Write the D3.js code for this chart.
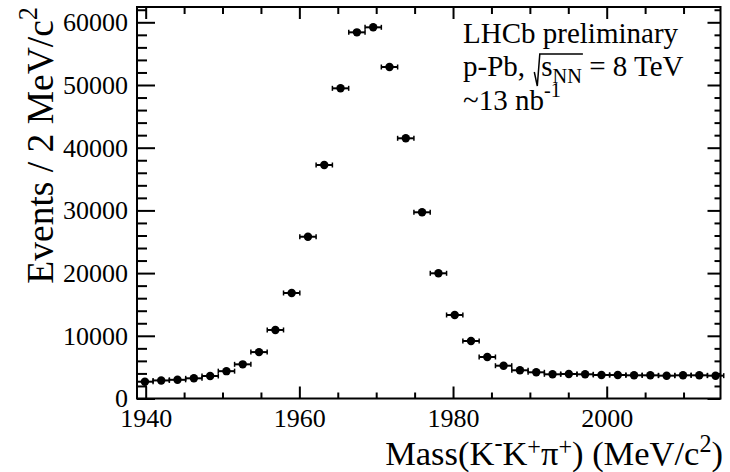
<!DOCTYPE html>
<html>
<head>
<meta charset="utf-8">
<script src="https://cdn.jsdelivr.net/npm/d3@7"></script>
<style>
    body { margin: 0; background: #fff; }
    svg { display: block; }
    svg text { font-family: 'Liberation Serif', 'Times New Roman', serif; }
</style>
</head>
<body>
<div class="chart"></div>
<script>
// bin centres (MeV/c^2) and counts
let mass = [1939.90, 1942.02, 1944.14, 1946.27, 1948.39, 1950.51, 1952.63, 1954.75, 1956.88, 1959.00,
    1961.12, 1963.24, 1965.36, 1967.49, 1969.61, 1971.73, 1973.85, 1975.97, 1978.10, 1980.22,
    1982.34, 1984.46, 1986.58, 1988.71, 1990.83, 1992.95, 1995.07, 1997.19, 1999.32, 2001.44,
    2003.56, 2005.68, 2007.80, 2009.93, 2012.05, 2014.17];
let events = [2680, 2880, 2980, 3220, 3590, 4360, 5450, 7400, 10930, 16830,
    25800, 37240, 49470, 58400, 59200, 52870, 41500, 29700, 19970, 13320,
    9170, 6620, 5230, 4500, 4180, 3860, 3910, 3860, 3750, 3750,
    3700, 3700, 3640, 3700, 3700, 3640];
let binHalf = 1.06;

let xTicks = [1940, 1960, 1980, 2000];
let yTicks = [0, 10000, 20000, 30000, 40000, 50000, 60000];
let xDomain = [1938.87, 2014.81];
let yDomain = [0, 62440];

let width = 730, height = 472;
let fontFamily = "'Liberation Serif', 'Times New Roman', serif";
let frame = {'left': 137, 'right': 720.5, 'top': 7, 'bottom': 398.5};

let svg = d3.select('.chart')
    .append('svg')
    .attr('width', width)
    .attr('height', height)
    .attr('font-family', fontFamily);

let x = d3.scaleLinear()
    .domain(xDomain)
    .range([frame.left, frame.right]);
let y = d3.scaleLinear()
    .domain(yDomain)
    .range([frame.bottom, frame.top]);

let xMinor = d3.range(1940, 2015, 5).filter(v => !xTicks.includes(v));
let yMinor = d3.range(0, 62001, 2000).filter(v => v % 10000 !== 0);

// helper: draw one set of ticks (and maybe labels) on a side
let drawAxis = function (axis, tx, ty, labels) {
    let g = svg.append('g')
        .attr('transform', `translate(${tx}, ${ty})`)
        .call(axis)
        .attr('font-family', fontFamily)
        .attr('font-size', 26);
    g.select('.domain').remove();
    g.selectAll('line').attr('stroke-width', 2);
    g.selectAll('text')
        .attr('fill', '#000')
        .style('font-family', fontFamily);
    if (!labels) g.selectAll('text').remove();
    return g;
};

// bottom
drawAxis(d3.axisBottom(x).tickValues(xTicks).tickSizeInner(-12).tickSizeOuter(0)
    .tickPadding(10).tickFormat(d => d), 0, frame.bottom, true);
drawAxis(d3.axisBottom(x).tickValues(xMinor).tickSizeInner(-6).tickSizeOuter(0), 0, frame.bottom, false);
// top
drawAxis(d3.axisTop(x).tickValues(xTicks).tickSizeInner(-12).tickSizeOuter(0), 0, frame.top, false);
drawAxis(d3.axisTop(x).tickValues(xMinor).tickSizeInner(-7).tickSizeOuter(0), 0, frame.top, false);
// left
drawAxis(d3.axisLeft(y).tickValues(yTicks).tickSizeInner(-18).tickSizeOuter(0)
    .tickPadding(9).tickFormat(d => d), frame.left, 0, true);
drawAxis(d3.axisLeft(y).tickValues(yMinor).tickSizeInner(-10).tickSizeOuter(0), frame.left, 0, false);
// right
drawAxis(d3.axisRight(y).tickValues(yTicks).tickSizeInner(-13).tickSizeOuter(0), frame.right, 0, false);
drawAxis(d3.axisRight(y).tickValues(yMinor).tickSizeInner(-6).tickSizeOuter(0), frame.right, 0, false);

// frame
svg.append('rect')
    .attr('x', frame.left)
    .attr('y', frame.top)
    .attr('width', frame.right - frame.left)
    .attr('height', frame.bottom - frame.top)
    .attr('fill', 'none')
    .attr('stroke', '#000')
    .attr('stroke-width', 2);

// text with super/subscripts; third entry = optional raise in em
let richText = function (sel, parts, size) {
    let cur = 0;
    parts.forEach(([str, kind, lift]) => {
        let off = kind === 'sup' ? -(lift || 0.42) * size : kind === 'sub' ? 0.24 * size : 0;
        sel.append('tspan')
            .attr('dy', off - cur)
            .attr('font-size', kind === 'n' ? size : size * 0.7)
            .text(str);
        cur = off;
    });
    return sel;
};

// axis titles
richText(svg.append('text')
    .attr('transform', `translate(${frame.right + 2.5}, 465)`)
    .attr('text-anchor', 'end'),
    [['Mass(K', 'n'], ['-', 'sup', 0.42], ['K', 'n'], ['+', 'sup', 0.3], ['\u03c0', 'n'], ['+', 'sup', 0.3],
        [') (MeV/c', 'n'], ['2', 'sup', 0.38], [')', 'n']], 34.5);

richText(svg.append('text')
    .attr('transform', `translate(53, ${frame.top}) rotate(-90)`)
    .attr('text-anchor', 'end'),
    [['Events / 2 MeV/c', 'n'], ['2', 'sup']], 37.5);

// data points
let pts = svg.append('g');
mass.forEach((m, i) => {
    let cx = x(m), cy = y(events[i]);
    let x0 = x(m - binHalf), x1 = x(m + binHalf);
    pts.append('line')
        .attr('x1', x0).attr('x2', x1)
        .attr('y1', cy).attr('y2', cy)
        .attr('stroke', '#000').attr('stroke-width', 2);
    [x0, x1].forEach(xe => {
        pts.append('line')
            .attr('x1', xe).attr('x2', xe)
            .attr('y1', cy - 2.5).attr('y2', cy + 2.5)
            .attr('stroke', '#000').attr('stroke-width', 1.5);
    });
    pts.append('circle')
        .attr('cx', cx)
        .attr('cy', cy)
        .attr('r', 4.2)
        .attr('fill', '#000');
});

// label block
let labSize = 29, labX = 463;
svg.append('text')
    .attr('x', labX).attr('y', 43)
    .attr('font-size', labSize)
    .text('LHCb preliminary');

let line2 = svg.append('text')
    .attr('x', labX).attr('y', 76)
    .attr('font-size', labSize);
line2.append('tspan').text('p-Pb, ');
line2.append('tspan').attr('dx', 9).text('s');
line2.append('tspan').attr('dy', 7).attr('font-size', labSize * 0.7).text('NN');
line2.append('tspan').attr('dy', -7).text(' = 8 TeV');

let node = line2.node();
let xs = node.getStartPositionOfChar(6).x;
let xe = node.getEndPositionOfChar(8).x;
svg.append('path')
    .attr('d', `M${xs - 7},${76 - 4} L${xs - 4},${76 + 10} L${xs - 1.5},${76 - 22} L${xe + 1},${76 - 22}`)
    .attr('fill', 'none')
    .attr('stroke', '#000')
    .attr('stroke-width', 1.5);

richText(svg.append('text')
    .attr('x', labX).attr('y', 110),
    [['~13 nb', 'n'], ['-1', 'sup', 0.45]], labSize);
</script>
</body>
</html>
